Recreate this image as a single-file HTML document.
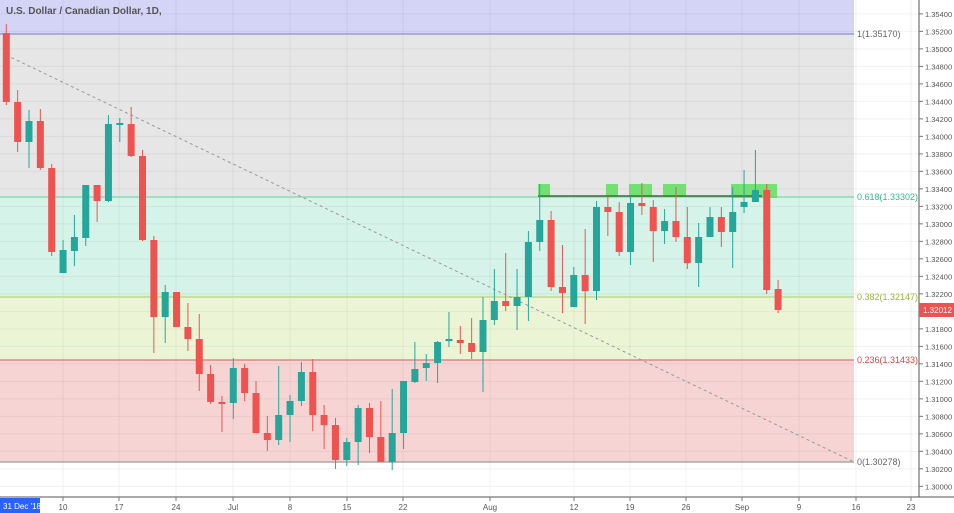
<!DOCTYPE html>
<html><head><meta charset="utf-8"><style>
html,body{margin:0;padding:0;background:#fff;width:954px;height:513px;overflow:hidden}
svg{display:block;font-family:"Liberation Sans",sans-serif}
</style></head><body>
<svg id="c" width="954" height="513" xmlns="http://www.w3.org/2000/svg">
<rect x="0" y="0" width="854" height="34" fill="#d4d4f6"/>
<rect x="0" y="34" width="854" height="163" fill="#e6e6e6"/>
<rect x="0" y="197" width="854" height="100" fill="#d5f3e9"/>
<rect x="0" y="297" width="854" height="63" fill="#ebf5d6"/>
<rect x="0" y="360" width="854" height="102" fill="#f6d4d4"/>
<g id="grid"></g>
<line x1="0" y1="34" x2="854" y2="34" stroke="#9e9ad0" stroke-width="1.5"/>
<line x1="0" y1="197" x2="854" y2="197" stroke="#8fd8b5" stroke-width="1.5"/>
<line x1="0" y1="297" x2="854" y2="297" stroke="#bedc86" stroke-width="1.5"/>
<line x1="0" y1="360" x2="854" y2="360" stroke="#d98a8a" stroke-width="1.5"/>
<line x1="0" y1="462" x2="854" y2="462" stroke="#a8a8a8" stroke-width="1.5"/>
<line x1="6" y1="55" x2="854" y2="462" stroke="#999" stroke-width="1" stroke-dasharray="3,3"/>
<g fill="#5fe05f" opacity="0.85">
<rect x="538" y="184" width="12" height="13"/><rect x="606" y="184" width="12" height="13"/>
<rect x="629" y="184" width="23" height="13"/><rect x="663" y="184" width="23" height="13"/>
<rect x="731" y="184" width="46" height="14"/></g>
<line x1="538" y1="196" x2="762" y2="196" stroke="#3f6b3f" stroke-width="1.5"/>
<g id="cd"></g>
<text x="6" y="14" font-size="10" font-weight="bold" fill="#555">U.S. Dollar / Canadian Dollar, 1D,</text>
<g font-size="9">
<text x="857" y="37" fill="#666">1(1.35170)</text>
<text x="857" y="200" fill="#2fb98a">0.618(1.33302)</text>
<text x="857" y="300" fill="#9ab830">0.382(1.32147)</text>
<text x="857" y="363" fill="#d94545">0.236(1.31433)</text>
<text x="857" y="465" fill="#666">0(1.30278)</text>
</g>
<line x1="919" y1="0" x2="919" y2="497" stroke="#555" stroke-width="1"/>
<line x1="0" y1="497" x2="954" y2="497" stroke="#555" stroke-width="1"/>
<g id="yl" font-size="7.5" fill="#555"></g>
<g id="xl" font-size="8" fill="#555"></g>
<rect x="919" y="303" width="35" height="14" fill="#ef5350"/>
<text x="923" y="313" font-size="8" fill="#fff">1.32012</text>
<rect x="0" y="498" width="40" height="15" fill="#2962ff"/>
<text x="3" y="509" font-size="8" fill="#fff">31 Dec '18</text>
</svg>
<script>
const ns="http://www.w3.org/2000/svg";
function el(p,t,a,txt){const e=document.createElementNS(ns,t);for(const k in a)e.setAttribute(k,a[k]);if(txt)e.textContent=txt;p.appendChild(e);return e;}
const grid=document.getElementById('grid'),yl=document.getElementById('yl'),xl=document.getElementById('xl');
for(let i=0;i<=27;i++){const p=1.354-i*0.002;const y=34+(1.3517-p)*8749;
 el(grid,'line',{x1:0,x2:919,y1:y,y2:y,stroke:'rgba(0,0,0,0.05)'});
 el(yl,'line',{x1:919,x2:923,y1:y,y2:y,stroke:'#777'});
 el(yl,'text',{x:925,y:y+3},p.toFixed(5));}
const xt=[[63,'10'],[119,'17'],[176,'24'],[233,'Jul'],[290,'8'],[347,'15'],[403,'22'],[490,'Aug'],[574,'12'],[630,'19'],[686,'26'],[742,'Sep'],[799,'9'],[856,'16'],[911,'23']];
xt.forEach(([x,t])=>{el(grid,'line',{x1:x,x2:x,y1:0,y2:497,stroke:'rgba(0,0,0,0.05)'});
 el(xl,'line',{x1:x,x2:x,y1:497,y2:501,stroke:'#777'});
 el(xl,'text',{x:x,y:510,'text-anchor':'middle'},t);});
const d=[[33,102,24,105],[102,142,90,152],[142,121,110,168],[121,168,109,170],[168,252,164,256],[273,250,240,273],[251,237,215,266],[238,185,185,246],[185,201,185,222],[201,124,115,202],[125,123,118,142],[124,156,107,157],[156,240,150,241],[240,317,236,353],[317,292,285,343],[292,327,292,327],[327,339,303,351],[339,374,314,391],[374,402,365,404],[402,404,396,432],[403,368,358,419],[368,393,364,401],[393,433,381,433],[433,440,416,451],[440,415,366,445],[415,401,395,442],[401,372,362,406],[372,415,359,431],[415,425,405,449],[425,460,418,469],[460,442,438,466],[442,408,405,465],[408,437,403,453],[437,462,401,462],[462,433,389,470],[433,381,381,449],[382,369,342,383],[368,363,354,381],[363,342,341,383],[341,339,312,347],[340,343,326,354],[343,352,318,359],[352,320,297,392],[320,301,269,325],[301,306,253,311],[306,297,269,330],[297,242,231,321],[242,220,184,251],[220,287,211,291],[287,293,245,313],[307,275,267,307],[275,291,229,324],[291,207,201,300],[207,212,196,236],[212,252,202,256],[252,203,196,265],[203,206,183,215],[207,231,200,262],[231,221,209,244],[221,237,187,242],[237,263,207,269],[263,237,223,287],[237,217,207,237],[217,232,207,247],[232,212,187,268],[207,202,170,213],[202,190,150,202],[190,290,184,294],[289,310,280,313]];
const cd=document.getElementById('cd');
d.forEach((c,i)=>{const x=6.3+i*11.35;const[o,cl,h,l]=c;const up=cl<=o;const col=up?'#26a69a':'#ef5350';
 el(cd,'line',{x1:x,x2:x,y1:h,y2:l,stroke:col,'stroke-width':1});
 const t=Math.min(o,cl),b=Math.max(o,cl);el(cd,'rect',{x:x-3.5,y:t,width:7,height:Math.max(b-t,1.5),fill:col});});
</script>
</body></html>
